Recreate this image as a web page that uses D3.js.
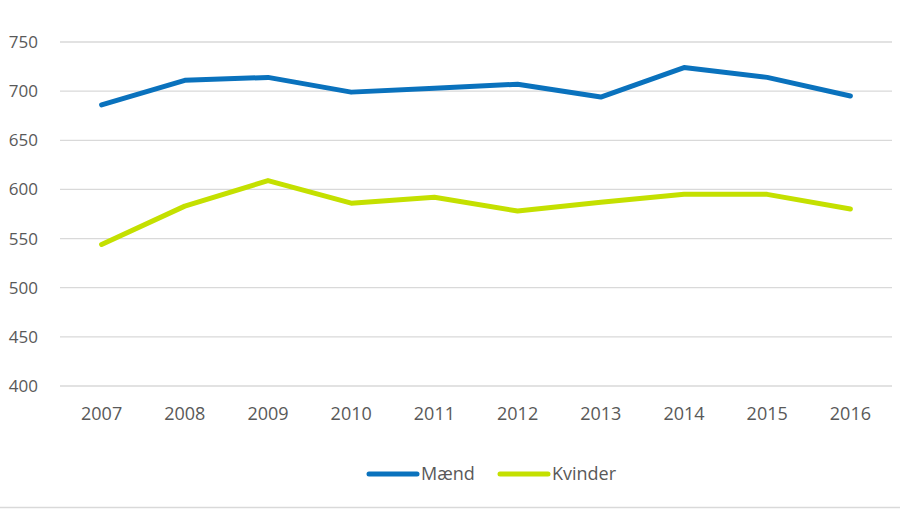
<!DOCTYPE html>
<html>
<head>
<meta charset="utf-8">
<script src="https://cdn.jsdelivr.net/npm/d3@7"></script>
<style>
  body { margin: 0; background: #fff; }
  svg { display: block; font-family: "Open Sans", sans-serif; }
  .axis text { fill: #595959; font-size: 17px; }
  .axis-x text { font-size: 18px; }
</style>
</head>
<body>
<div id="chart"></div>
<script>
const years = ['2007', '2008', '2009', '2010', '2011', '2012', '2013', '2014', '2015', '2016'];
const maend = [686, 711, 714, 699, 703, 707, 694, 724, 714, 695];
const kvinder = [544, 583, 609, 586, 592, 578, 587, 595, 595, 580];
const yTicks = [400, 450, 500, 550, 600, 650, 700, 750];
const seriesNames = ['Mænd', 'Kvinder'];
const colors = ['#0a72bd', '#c4e000'];

const size = { w: 900, h: 525 };
const margin = { top: 42, right: 8, bottom: 139, left: 60 };
const width = size.w - margin.left - margin.right;
const height = size.h - margin.top - margin.bottom;

const svg = d3.select('#chart').append('svg')
    .attr('width', size.w)
    .attr('height', size.h);

const g = svg.append('g').attr('transform', `translate(${margin.left}, ${margin.top})`);

const x = d3.scalePoint().domain(years).range([0, width]).padding(0.5);
const y = d3.scaleLinear().domain([400, 750]).range([height, 0]);

// gridlines
g.append('g')
    .selectAll('line')
    .data(yTicks)
    .enter().append('line')
    .attr('x1', 0)
    .attr('x2', width)
    .attr('y1', d => y(d))
    .attr('y2', d => y(d))
    .attr('stroke', '#d9d9d9')
    .attr('stroke-width', 1.3);

// y axis labels
g.append('g')
    .attr('class', 'axis axis-y')
    .selectAll('text')
    .data(yTicks)
    .enter().append('text')
    .attr('x', -22)
    .attr('y', d => y(d))
    .attr('dy', '0.35em')
    .attr('text-anchor', 'end')
    .text(d => d);

// x axis labels
g.append('g')
    .attr('class', 'axis axis-x')
    .selectAll('text')
    .data(years)
    .enter().append('text')
    .attr('x', d => x(d))
    .attr('y', height + 28)
    .attr('dy', '0.35em')
    .attr('text-anchor', 'middle')
    .text(d => d);

const line = d3.line()
    .x((d, i) => x(years[i]))
    .y(d => y(d));

[maend, kvinder].forEach((vals, i) => {
    g.append('path')
        .datum(vals)
        .attr('fill', 'none')
        .attr('stroke', colors[i])
        .attr('stroke-width', 5)
        .attr('stroke-linejoin', 'round')
        .attr('stroke-linecap', 'round')
        .attr('d', line);
});

// legend
const legend = svg.append('g').attr('transform', 'translate(0, 474)');
const legendX = [369, 500];
seriesNames.forEach((name, i) => {
    const lg = legend.append('g').attr('transform', `translate(${legendX[i]}, 0)`);
    lg.append('line')
        .attr('x1', 0).attr('x2', 48)
        .attr('stroke', colors[i])
        .attr('stroke-width', 5)
        .attr('stroke-linecap', 'round');
    lg.append('text')
        .attr('x', 52)
        .attr('dy', '0.35em')
        .attr('fill', '#595959')
        .attr('font-size', 18)
        .text(name);
});

// bottom frame line
svg.append('line')
    .attr('x1', 0).attr('x2', size.w)
    .attr('y1', 507.5).attr('y2', 507.5)
    .attr('stroke', '#d9d9d9')
    .attr('stroke-width', 1.3);
</script>
</body>
</html>
